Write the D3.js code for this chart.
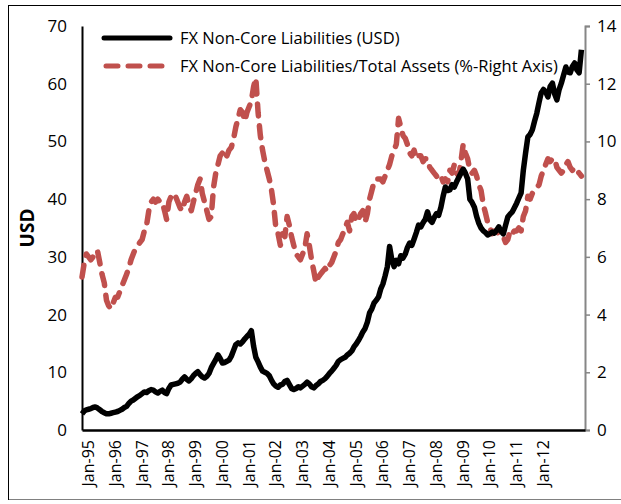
<!DOCTYPE html>
<html>
<head>
<meta charset="utf-8">
<script src="https://cdn.jsdelivr.net/npm/d3@7"></script>
<style>
body{margin:0;background:#fff;}
svg{display:block;}
text{font-family:"Open Sans","Noto Sans",sans-serif;}
</style>
</head>
<body>
<svg width="621" height="504"></svg>
<script>
// monthly, Jan-95 .. Sep-13
var usdValues=[
  2.8,3.3,3.5,3.6,3.7,3.9,4.0,3.8,3.5,3.2,3.0,2.8,
  2.8,2.9,3.0,3.1,3.2,3.4,3.6,3.9,4.1,4.6,5.0,5.2,
  5.5,5.8,6.0,6.3,6.6,6.5,6.8,7.0,6.9,6.6,6.4,6.7,
  6.9,6.5,6.3,7.2,7.8,7.9,8.0,8.1,8.3,8.8,9.2,8.8,
  8.5,8.9,9.4,9.8,10.1,9.6,9.2,9.0,9.3,9.8,10.8,11.5,
  12.2,13.0,12.4,11.6,11.7,11.9,12.1,12.8,13.8,14.8,15.1,14.9,
  15.3,15.8,16.2,16.6,17.2,14.5,12.6,11.8,10.9,10.2,10.0,9.8,
  9.4,8.6,8.0,7.6,7.4,7.8,7.9,8.4,8.6,7.9,7.2,7.0,
  7.2,7.5,7.3,7.6,7.9,8.3,8.0,7.5,7.3,7.7,8.0,8.4,
  8.6,8.9,9.3,9.8,10.2,10.7,11.2,11.9,12.2,12.4,12.6,13.0,
  13.3,13.7,14.4,14.9,15.5,16.2,17.0,17.6,18.7,20.3,21.0,22.0,
  22.5,23.1,24.4,25.3,26.7,28.3,31.8,29.5,28.3,29.4,28.8,30.2,
  29.8,30.5,31.6,32.4,32.0,33.1,34.2,35.5,35.2,35.9,36.5,37.8,
  36.4,36.0,36.8,37.5,37.2,38.6,40.5,42.1,41.5,41.6,42.5,42.1,
  43.0,43.8,44.5,45.2,44.5,43.5,40.0,39.4,38.6,37.0,35.8,35.0,
  34.5,34.2,33.8,34.0,34.3,34.1,34.6,35.2,34.4,34.0,35.5,36.9,
  37.4,37.8,38.5,39.3,40.2,41.1,45.0,48.0,50.8,51.2,52.0,53.5,
  54.9,56.8,58.4,59.0,58.6,57.7,59.5,60.1,58.2,57.2,59.0,60.1,
  61.5,62.9,62.0,61.9,63.0,63.6,62.4,61.9,65.9
];
var ratioValues=[
  5.3,5.8,6.1,6.0,5.9,6.0,6.2,6.2,5.8,5.4,5.1,4.5,
  4.3,4.2,4.4,4.6,4.6,4.8,5.0,5.2,5.4,5.6,5.9,6.1,
  6.3,6.4,6.5,6.6,6.9,7.1,7.6,7.9,8.0,7.9,8.0,7.9,
  7.9,7.6,7.3,7.9,8.1,8.0,8.1,7.9,7.7,7.6,7.9,8.1,
  7.8,7.6,7.9,8.2,8.5,8.7,8.2,7.9,7.6,7.3,7.4,8.4,
  8.9,9.2,9.5,9.6,9.4,9.5,9.7,9.8,10.1,10.5,10.8,11.1,
  11.0,10.7,11.0,11.2,11.4,11.9,12.2,11.0,10.2,9.7,9.3,9.0,
  8.7,8.3,7.8,7.0,6.8,6.4,6.8,6.7,7.4,7.1,6.7,6.4,
  6.1,6.0,5.9,6.1,6.3,6.8,6.4,5.9,5.5,5.1,5.3,5.4,
  5.5,5.6,5.5,5.7,5.8,6.0,6.2,6.5,6.6,6.8,7.0,7.2,
  6.9,7.4,7.5,7.2,7.3,7.5,7.6,7.2,7.5,8.0,8.3,8.6,
  8.7,8.7,8.7,8.6,8.8,9.0,9.2,9.5,9.7,9.9,10.8,10.5,
  10.2,10.1,9.9,9.6,9.5,9.7,9.4,9.5,9.5,9.3,9.4,9.4,
  9.1,9.0,8.9,8.8,8.7,8.8,8.6,8.7,8.6,9.0,8.9,9.2,
  8.9,8.8,9.3,9.9,9.6,9.4,9.0,8.9,9.0,8.8,8.5,8.3,
  7.8,7.5,7.2,7.0,6.8,6.9,6.9,6.8,6.8,6.7,6.5,6.6,
  6.9,6.8,6.9,6.9,7.0,6.9,7.4,7.6,8.1,8.0,8.2,8.3,
  8.4,8.5,8.8,9.0,9.2,9.4,9.3,9.4,9.4,9.1,9.0,8.9,
  9.0,9.2,9.3,9.1,9.0,9.1,9.0,8.9,8.8
];
var leftTicks=[0,10,20,30,40,50,60,70];
var rightTicks=[0,2,4,6,8,10,12,14];
var labelYears=[1995,1996,1997,1998,1999,2000,2001,2002,2003,2004,2005,2006,2007,2008,2009,2010,2011,2012];
var seriesNames=["FX Non-Core Liabilities (USD)","FX Non-Core Liabilities/Total Assets (%-Right Axis)"];

var months=d3.timeMonth.range(new Date(1995,0,1),new Date(1995+Math.floor(usdValues.length/12),usdValues.length%12,1));

var svg=d3.select("svg");
var margin={top:26,left:82,right:36,bottom:74};
var W=621,H=504;
var plotW=W-margin.left-margin.right;
var plotH=H-margin.top-margin.bottom;

// outer frame
svg.append("rect").attr("x",8.5).attr("y",5.5).attr("width",640).attr("height",494)
  .attr("fill","none").attr("stroke","#808080").attr("stroke-width",1);
svg.append("line").attr("x1",8.5).attr("x2",8.5).attr("y1",5).attr("y2",500).attr("stroke","#000");
svg.append("line").attr("x1",8).attr("x2",621).attr("y1",5.5).attr("y2",5.5).attr("stroke","#000");

var x=d3.scaleTime().domain([new Date(1995,0,1),new Date(2013,9,20)]).range([0,plotW]);
var yL=d3.scaleLinear().domain([0,70]).range([plotH,0]);
var yR=d3.scaleLinear().domain([0,14]).range([plotH,0]);

var plot=svg.append("g").attr("transform","translate("+margin.left+","+margin.top+")");

// left axis
var la=plot.append("g").call(d3.axisLeft(yL).tickValues(leftTicks).tickSize(0).tickPadding(15));
la.select(".domain").attr("stroke","#000").attr("stroke-width",2);
la.selectAll("text").attr("font-size","17px").attr("fill","#000");

// right axis
var ra=plot.append("g").attr("transform","translate("+plotW+",0)")
  .call(d3.axisRight(yR).tickValues(rightTicks).tickSize(5).tickSizeOuter(5).tickPadding(7));
ra.select(".domain").attr("stroke","#868686").attr("stroke-width",2);
ra.selectAll("line").attr("stroke","#868686").attr("stroke-width",1.5);
ra.selectAll("text").attr("font-size","17px").attr("fill","#000");

// bottom axis
var ba=plot.append("g").attr("transform","translate(0,"+plotH+")")
  .call(d3.axisBottom(x).tickValues(labelYears.map(function(y){return new Date(y,0,1);}))
    .tickFormat(d3.timeFormat("%b-%y")).tickSize(0).tickPadding(8));
ba.select(".domain").attr("stroke","#000").attr("stroke-width",2.5);
ba.selectAll("text").attr("font-size","16px").attr("fill","#000")
  .attr("transform","rotate(-90)").attr("text-anchor","end")
  .attr("x",-10).attr("y",6).attr("dy","0.35em");

svg.append("text").attr("transform","translate(34,"+(margin.top+plotH/2)+")rotate(-90)")
  .attr("text-anchor","middle").attr("font-size","19px").attr("font-weight","bold").text("USD");

var lineL=d3.line().x(function(d,i){return x(months[i]);}).y(function(d){return yL(d);});
var lineR=d3.line().x(function(d,i){return x(months[i]);}).y(function(d){return yR(d);});

plot.append("path").datum(ratioValues).attr("d",lineR).attr("fill","none")
  .attr("stroke","#C0504D").attr("stroke-width",5.5).attr("stroke-linecap","round")
  .attr("stroke-linejoin","round").attr("stroke-dasharray","12,10");
plot.append("path").datum(usdValues).attr("d",lineL).attr("fill","none")
  .attr("stroke","#000").attr("stroke-width",5.5).attr("stroke-linejoin","round");

// legend
var leg=svg.append("g");
leg.append("line").attr("x1",104).attr("x2",170).attr("y1",38).attr("y2",38)
  .attr("stroke","#000").attr("stroke-width",5).attr("stroke-linecap","round");
leg.append("line").attr("x1",106).attr("x2",170).attr("y1",66).attr("y2",66)
  .attr("stroke","#C0504D").attr("stroke-width",5).attr("stroke-linecap","round").attr("stroke-dasharray","12,10");
leg.selectAll("text.leg").data(seriesNames).enter().append("text").attr("class","leg")
  .attr("x",180).attr("y",function(d,i){return 38+i*28;}).attr("dy","0.35em")
  .attr("font-size","16.5px").attr("fill","#000").text(function(d){return d;});
</script>
</body>
</html>
